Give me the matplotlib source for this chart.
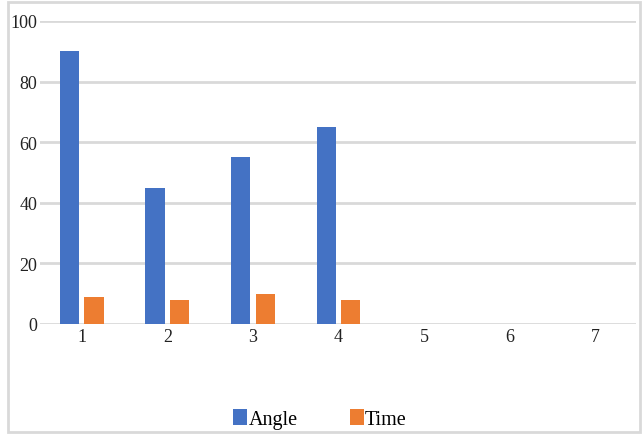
import matplotlib.pyplot as plt
import numpy as np
from matplotlib.patches import Rectangle

categories = ['1', '2', '3', '4', '5', '6', '7']
angle = [90, 45, 55, 65, 0, 0, 0]
time_vals = [9, 8, 10, 8, 0, 0, 0]

plt.rcParams['font.family'] = ['Liberation Serif', 'DejaVu Serif']

fig = plt.figure(figsize=(6.44, 4.35), dpi=100)
ax = fig.add_axes([40 / 644, 1 - 325 / 435, 596 / 644, (325 - 22) / 435])

x = np.arange(len(categories))
w = 0.225
off = 0.143
ax.bar(x - off, angle, w, color='#4472C4', label='Angle', zorder=3)
ax.bar(x + off, time_vals, w, color='#ED7D31', label='Time', zorder=3)

ax.set_xlim(-0.487, 6.475)
ax.set_ylim(0, 100)
ax.set_yticks([0, 20, 40, 60, 80, 100])
ax.set_xticks(x)
ax.set_xticklabels(categories)
ax.yaxis.grid(True, color='#D9D9D9', linewidth=2, zorder=0)
ax.tick_params(length=0, labelsize=13, colors='#222222')
ax.tick_params(axis='y', pad=2)
ax.tick_params(axis='x', pad=3)
for s in ax.spines.values():
    s.set_visible(False)

fig.legend(loc='center', bbox_to_anchor=(320 / 644, 1 - 420 / 435), ncol=2,
           frameon=False, fontsize=14.5, handlelength=0.7, handleheight=0.8,
           handletextpad=0.05, columnspacing=2.6)

fig.patches.append(Rectangle((8 / 644, 2 / 435), 632 / 644, 430 / 435,
                             transform=fig.transFigure, fill=False,
                             edgecolor='#D9D9D9', linewidth=2))

fig.savefig('out.png', dpi=100)
